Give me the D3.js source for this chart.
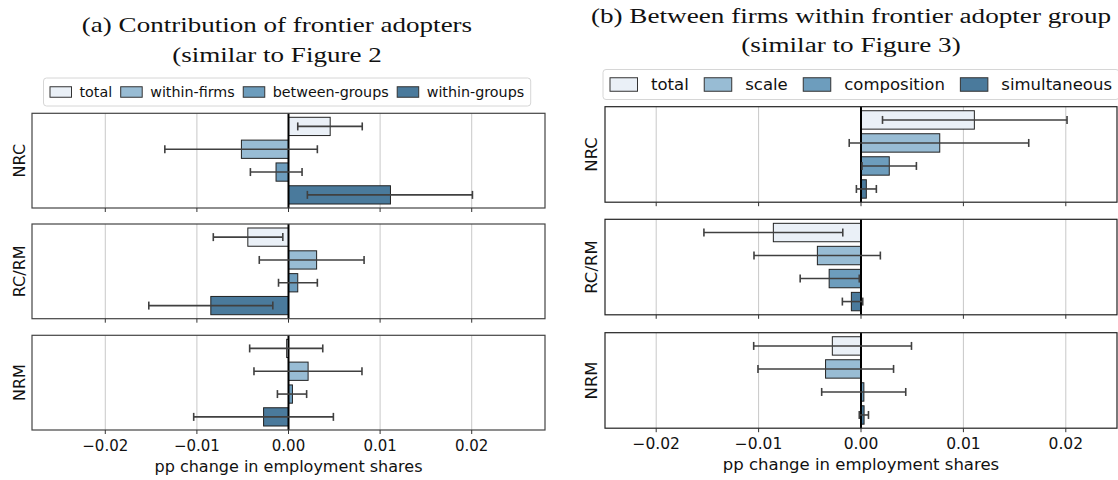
<!DOCTYPE html>
<html lang="en">
<head>
<meta charset="UTF-8">
<title>Frontier adopters decomposition</title>
<script src="https://d3js.org/d3.v7.min.js"></script>
<style>
    body { margin: 0; background: white; }
    svg { display: block; }
    .tick-label, .axis-label, .legend-text { font-family: "DejaVu Sans", sans-serif; fill: #111; }
    .title { font-family: "Liberation Serif", serif; fill: #111; }
</style>
</head>
<body>
<div id="chart"></div>
<script>
    const width = 1118;
    const height = 480;

    // groups (one sub-plot each) and series names
    const groups = ["NRC", "RC/RM", "NRM"];
    const seriesA = ["total", "within-firms", "between-groups", "within-groups"];
    const seriesB = ["total", "scale", "composition", "simultaneous"];
    const xTicks = [-0.02, -0.01, 0.0, 0.01, 0.02];

    // panel (a): bar value, lower and upper error bound, one row per group
    const valuesA = [
        [0.00455, -0.00514, -0.00136, 0.01113],
        [-0.00444, 0.00307, 0.00101, -0.00848],
        [-0.0002, 0.00214, 0.00043, -0.00272]
    ];
    const lowA = [
        [0.00101, -0.0135, -0.00416, 0.00206],
        [-0.00821, -0.00319, -0.00109, -0.01525],
        [-0.00424, -0.00377, -0.00121, -0.01035]
    ];
    const highA = [
        [0.00805, 0.00315, 0.00148, 0.02008],
        [-0.00062, 0.00825, 0.00315, -0.00171],
        [0.00374, 0.00802, 0.00198, 0.0049]
    ];

    // panel (b)
    const valuesB = [
        [0.01107, 0.00769, 0.00276, 0.00052],
        [-0.00856, -0.00426, -0.00311, -0.00094],
        [-0.0028, -0.00346, 0.00028, 0.0003]
    ];
    const lowB = [
        [0.0021, -0.00115, 0.0001, -0.00045],
        [-0.01534, -0.01045, -0.00594, -0.00182],
        [-0.01048, -0.01006, -0.00384, -0.00017]
    ];
    const highB = [
        [0.02012, 0.01638, 0.00541, 0.0015],
        [-0.00178, 0.00189, -0.00017, 0.00017],
        [0.00493, 0.00318, 0.00437, 0.00073]
    ];

    const colors = ["#eaf0f7", "#98bcd4", "#6d9dbd", "#4a7a9c"];

    const svg = d3.select("#chart")
        .append("svg")
        .attr("width", width)
        .attr("height", height);

    const fmt = d3.format(".2f");

    function drawPanel(p) {
        const g = svg.append("g");
        const x = d3.scaleLinear().domain(p.domain).range([p.left, p.right]);

        // title, two lines; the serif is widened to mimic Computer Modern
        p.title.forEach((line, i) => {
            const t = g.append("text")
                .attr("class", "title")
                .attr("x", p.titleX)
                .attr("y", p.titleY + i * p.titleGap)
                .attr("text-anchor", "middle")
                .style("font-size", p.titleSize + "px")
                .text(line);
            const w = t.node().getComputedTextLength();
            t.attr("textLength", w * 1.24).attr("lengthAdjust", "spacingAndGlyphs");
        });

        // legend
        const leg = g.append("g");
        const box = leg.append("rect")
            .attr("y", p.legTop)
            .attr("height", p.legH)
            .attr("rx", 3)
            .attr("fill", "white")
            .attr("stroke", "#d6d6d6")
            .attr("stroke-width", 1);
        let cx = p.legLeft + p.legPad;
        p.series.forEach((s, i) => {
            leg.append("rect")
                .attr("x", cx)
                .attr("y", p.legTop + (p.legH - p.patchH) / 2)
                .attr("width", p.patchW)
                .attr("height", p.patchH)
                .attr("fill", colors[i])
                .attr("stroke", "#333")
                .attr("stroke-width", 1);
            const t = leg.append("text")
                .attr("class", "legend-text")
                .attr("x", cx + p.patchW + p.textPad)
                .attr("y", p.legTop + p.legH / 2)
                .attr("dy", "0.35em")
                .style("font-size", p.legFont + "px")
                .text(s);
            cx += p.patchW + p.textPad + t.node().getComputedTextLength() + p.colGap;
        });
        box.attr("x", p.legLeft).attr("width", cx - p.colGap + p.legPad - p.legLeft);

        groups.forEach((grp, gi) => {
            const top = p.tops[gi];
            const bottom = top + p.h;
            const y = d3.scaleBand()
                .domain(p.series)
                .range([top, bottom])
                .paddingInner(0.2)
                .paddingOuter(0.175);

            // grid
            g.append("g").selectAll("line")
                .data(xTicks)
                .join("line")
                .attr("x1", d => x(d)).attr("x2", d => x(d))
                .attr("y1", top).attr("y2", bottom)
                .attr("stroke", "#c8c8c8")
                .attr("stroke-width", 1);

            // bars
            g.append("g").selectAll("rect")
                .data(p.values[gi])
                .join("rect")
                .attr("x", d => x(Math.min(0, d)))
                .attr("width", d => Math.abs(x(d) - x(0)))
                .attr("y", (d, i) => y(p.series[i]))
                .attr("height", y.bandwidth())
                .attr("fill", (d, i) => colors[i])
                .attr("stroke", "#222")
                .attr("stroke-width", 1);

            // zero line
            g.append("line")
                .attr("x1", x(0)).attr("x2", x(0))
                .attr("y1", top).attr("y2", bottom)
                .attr("stroke", "black")
                .attr("stroke-width", 2);

            // error bars
            const err = g.append("g")
                .attr("stroke", "#404040")
                .attr("stroke-width", 1.6);
            p.low[gi].forEach((lo, i) => {
                const hi = p.high[gi][i];
                const cy = y(p.series[i]) + y.bandwidth() / 2;
                err.append("line").attr("x1", x(lo)).attr("x2", x(hi)).attr("y1", cy).attr("y2", cy);
                [lo, hi].forEach(v => {
                    err.append("line").attr("x1", x(v)).attr("x2", x(v))
                        .attr("y1", cy - 4).attr("y2", cy + 4);
                });
            });

            // frame
            g.append("rect")
                .attr("x", p.left).attr("y", top)
                .attr("width", p.right - p.left).attr("height", p.h)
                .attr("fill", "none")
                .attr("stroke", p.frame)
                .attr("stroke-width", 1.2);

            // x ticks
            g.append("g").selectAll("line")
                .data(xTicks)
                .join("line")
                .attr("x1", d => x(d)).attr("x2", d => x(d))
                .attr("y1", bottom).attr("y2", bottom + 4)
                .attr("stroke", "#333")
                .attr("stroke-width", 1);

            // y label
            g.append("text")
                .attr("class", "axis-label")
                .attr("transform", `translate(${p.ylabX},${top + p.h / 2}) rotate(-90)`)
                .attr("text-anchor", "middle")
                .attr("dy", "0.35em")
                .style("font-size", p.labFont + "px")
                .text(grp);
        });

        // tick labels under the last sub-plot
        const last = p.tops[groups.length - 1] + p.h;
        g.append("g").selectAll("text")
            .data(xTicks)
            .join("text")
            .attr("class", "tick-label")
            .attr("x", d => x(d))
            .attr("y", last + 15.5)
            .attr("dy", "0.35em")
            .attr("text-anchor", "middle")
            .style("font-size", p.tickFont + "px")
            .text(d => fmt(d));

        g.append("text")
            .attr("class", "axis-label")
            .attr("x", (p.left + p.right) / 2)
            .attr("y", last + 36)
            .attr("dy", "0.35em")
            .attr("text-anchor", "middle")
            .style("font-size", p.labFont + "px")
            .text("pp change in employment shares");
    }

    drawPanel({
        title: ["(a) Contribution of frontier adopters", "(similar to Figure 2"],
        titleX: 277, titleY: 31.7, titleGap: 30, titleSize: 21.8,
        series: seriesA, values: valuesA, low: lowA, high: highA,
        domain: [-0.028, 0.028], left: 32, right: 545,
        tops: [113.3, 224, 335.3], h: 94.7, frame: "#444",
        legLeft: 43.5, legTop: 78, legH: 28, legPad: 6.5, patchW: 21.5, patchH: 10.5,
        textPad: 8, colGap: 8.5, legFont: 14.3,
        ylabX: 19, labFont: 16, tickFont: 15
    });

    drawPanel({
        title: ["(b) Between firms within frontier adopter group", "(similar to Figure 3)"],
        titleX: 851, titleY: 23, titleGap: 29, titleSize: 21.9,
        series: seriesB, values: valuesB, low: lowB, high: highB,
        domain: [-0.025, 0.025], left: 605, right: 1117,
        tops: [106.7, 219.3, 332.7], h: 95.5, frame: "#222",
        legLeft: 603, legTop: 69.5, legH: 30, legPad: 7, patchW: 27.5, patchH: 13.5,
        textPad: 13.5, colGap: 15.5, legFont: 16.5,
        ylabX: 591, labFont: 16.5, tickFont: 15.5
    });
</script>
</body>
</html>
